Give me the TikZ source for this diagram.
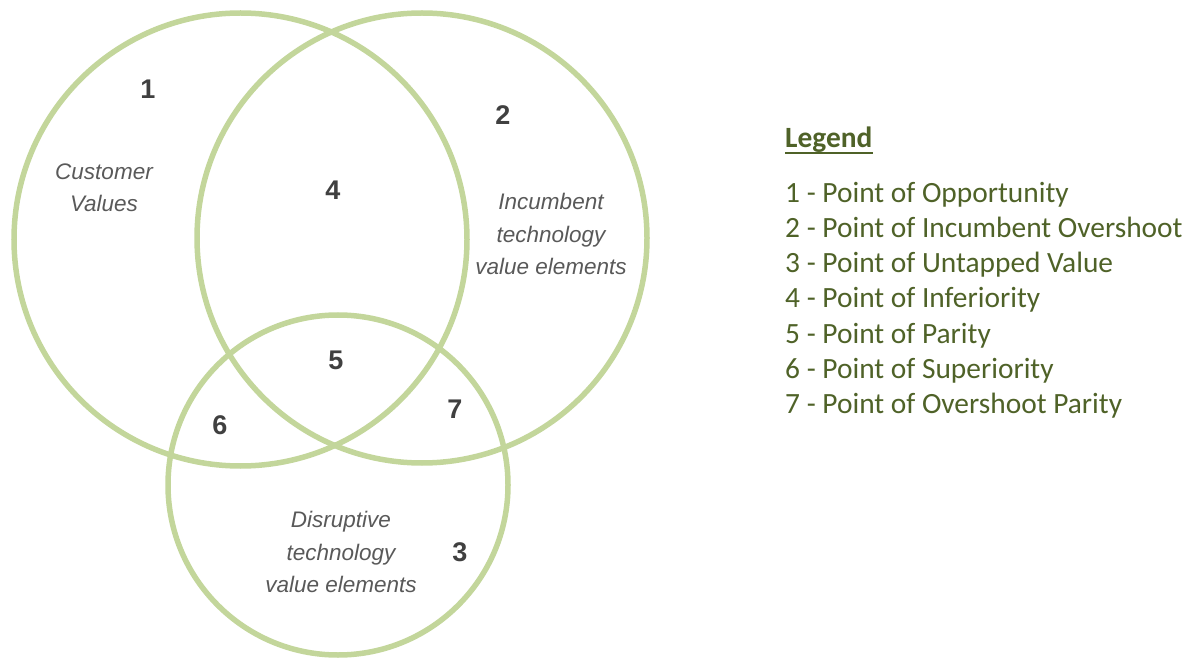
\documentclass[tikz,border=0pt]{standalone}
\usepackage{fontspec}
\setmainfont{Liberation Sans}
\newfontfamily\legendfont{Carlito}
\definecolor{venngreen}{RGB}{195,214,155}
\definecolor{labelgray}{RGB}{89,89,89}
\definecolor{numgray}{RGB}{64,64,64}
\definecolor{legendgreen}{RGB}{79,98,40}
\begin{document}
\begin{tikzpicture}[x=1pt,y=-1pt,
	set/.style={shape=circle,draw=venngreen,line width=5.5pt,inner sep=0pt},
	num/.style={font=\fontsize{27}{30}\selectfont\bfseries,text=numgray,inner sep=0pt},
	setlabel/.style={font=\fontsize{22.5}{32.5}\selectfont\itshape,text=labelgray,align=center,inner sep=0pt},
	legend/.style={font=\legendfont\fontsize{29.4}{35}\selectfont,text=legendgreen,anchor=base west,inner sep=0pt}]
	\useasboundingbox (0,0) rectangle (1194,660);
	% the three sets
	\node[set,minimum size=453pt] (cust) at (240.5,239.5) {};
	\node[set,minimum size=450pt] (inc) at (422,238) {};
	\node[set,minimum size=340pt] (dis) at (338,485) {};
	% set names
	\node[setlabel] (custname) at (104,188) {Customer\\Values};
	\node[setlabel] (incname) at (551,234) {Incumbent\\technology\\value elements};
	\node[setlabel] (disname) at (341,552) {Disruptive\\technology\\value elements};
	% region numbers
	\node[num] (p1) at (148,89) {1};
	\node[num] (p2) at (503,115) {2};
	\node[num] (p3) at (460,552) {3};
	\node[num] (p4) at (333,190) {4};
	\node[num] (p5) at (336,360) {5};
	\node[num] (p6) at (220,425) {6};
	\node[num] (p7) at (455,409) {7};
	% legend
	\node[legend,font=\legendfont\fontsize{29.4}{35}\selectfont\bfseries] (lg) at (785,148) {Legend};
	\draw[legendgreen,line width=1.6pt] ([yshift=-5pt]lg.base west) -- ([yshift=-5pt]lg.base east);
	\foreach \txt [count=\i] in {Point of Opportunity,Point of Incumbent Overshoot,Point of Untapped Value,Point of Inferiority,Point of Parity,Point of Superiority,Point of Overshoot Parity}
		\node[legend] (l\i) at (785,168+35*\i) {\i{} - \txt};
\end{tikzpicture}
\end{document}
